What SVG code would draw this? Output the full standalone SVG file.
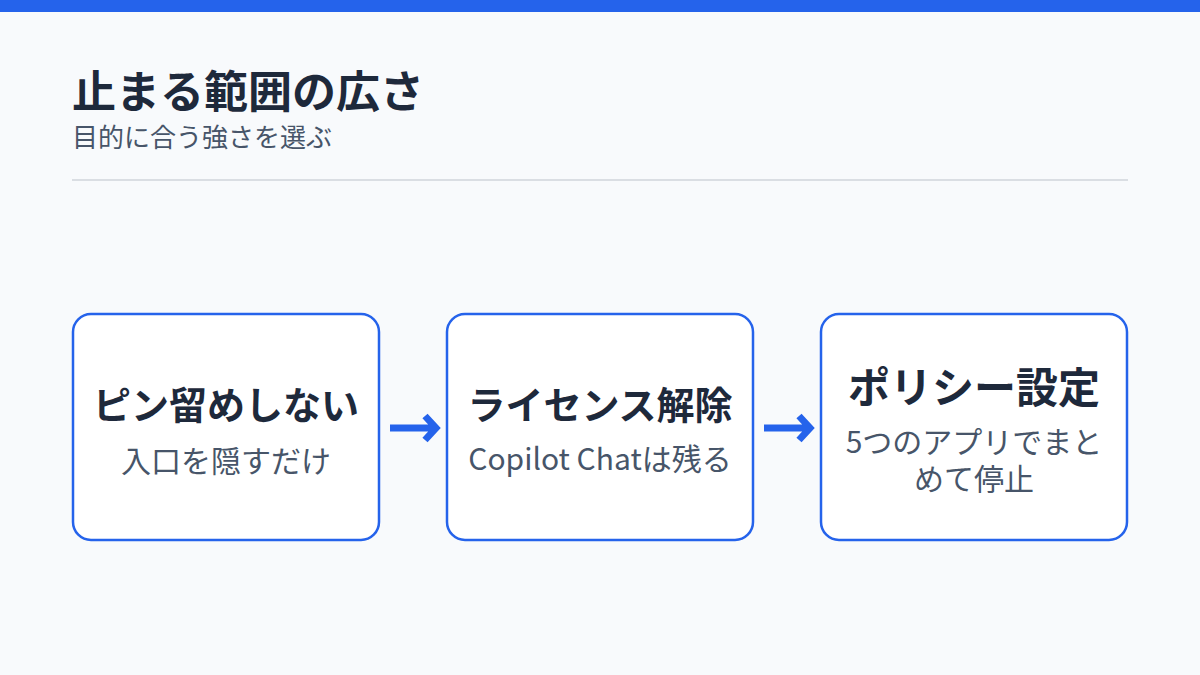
<svg xmlns="http://www.w3.org/2000/svg" width="1200" height="675" viewBox="0 0 1200 675">
<style>
text{font-family:"Noto Sans CJK JP","Noto Sans",sans-serif;}
.title{font-size:44px;font-weight:700;fill:#1e293b;}
.sub{font-size:26px;fill:#475569;}
.box{fill:#ffffff;stroke:#2563eb;stroke-width:2.5;}
.bt{font-weight:700;fill:#1e293b;text-anchor:middle;}
.bs{font-size:30px;fill:#475569;text-anchor:middle;}
.conn{fill:none;stroke:#2563eb;stroke-width:7;stroke-linejoin:miter;}
</style>
<rect x="0" y="0" width="1200" height="675" fill="#f8fafc"/>
<rect x="0" y="0" width="1200" height="12" fill="#2563eb"/>
<text class="title" x="72" y="108">止まる範囲の広さ</text>
<text class="sub" x="72" y="147">目的に合う強さを選ぶ</text>
<line x1="72" y1="180" x2="1128" y2="180" stroke="#d1d5db" stroke-width="1.5"/>
<g id="node1">
<rect class="box" x="73" y="314" width="306" height="226" rx="18"/>
<text class="bt" x="226" y="419" font-size="38">ピン留めしない</text>
<text class="bs" x="226" y="472">入口を隠すだけ</text>
</g>
<g id="node2">
<rect class="box" x="447" y="314" width="306" height="226" rx="18"/>
<text class="bt" x="600" y="419" font-size="38">ライセンス解除</text>
<text class="bs" x="600" y="470">Copilot Chatは残る</text>
</g>
<g id="node3">
<rect class="box" x="821" y="314" width="306" height="226" rx="18"/>
<text class="bt" x="974" y="403" font-size="42">ポリシー設定</text>
<text class="bs" x="974" y="453">5つのアプリでまと</text>
<text class="bs" x="974" y="490">めて停止</text>
</g>
<g id="connectors">
<path class="conn" d="M390 428 H432 M425 416 L436 428 L425 440"/>
<path class="conn" d="M764 428 H806 M799 416 L810 428 L799 440"/>
</g>
</svg>
